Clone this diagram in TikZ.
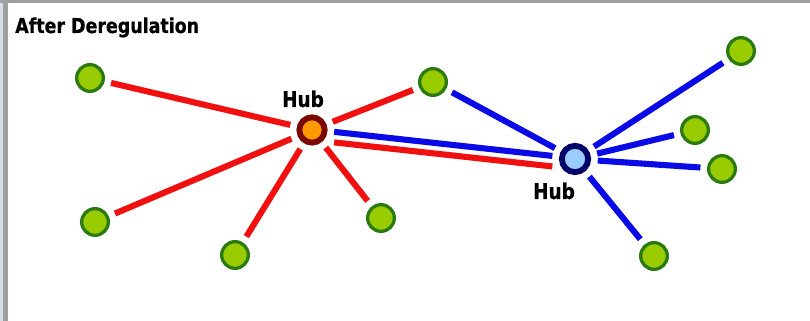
\documentclass[tikz,border=0pt]{standalone}
\usepackage{fontspec}
\newfontfamily\lblfont[FakeStretch=0.85,FakeBold=0.6]{DejaVu Sans}
\definecolor{leaf}{HTML}{99CC00}
\definecolor{leafdk}{HTML}{2A7A10}
\definecolor{hubor}{HTML}{FF9900}
\definecolor{hubred}{HTML}{7A0A00}
\definecolor{hubblfill}{HTML}{99CCFF}
\definecolor{hubbl}{HTML}{000066}
\definecolor{edred}{HTML}{F01010}
\definecolor{edblue}{HTML}{0A0AE6}
\definecolor{framegray}{HTML}{A0A0A0}
\definecolor{framelight}{HTML}{D8DEE8}
\tikzset{
  leafnode/.style={circle,fill=leaf,draw=leafdk,line width=2.8pt,minimum size=0.8cm,inner sep=0pt},
  hubA/.style={circle,fill=hubor,draw=hubred,line width=5pt,minimum size=0.76cm,inner sep=0pt},
  hubB/.style={circle,fill=hubblfill,draw=hubbl,line width=5pt,minimum size=0.79cm,inner sep=0pt},
  redline/.style={draw=edred,line width=5.2pt,shorten <=0.2cm,shorten >=0.2cm},
  blueline/.style={draw=edblue,line width=5.2pt,shorten <=0.2cm,shorten >=0.2cm},
  hublabel/.style={font=\lblfont\bfseries\fontsize{18.5}{20}\selectfont,inner sep=0pt,anchor=base},
  titletext/.style={font=\lblfont\bfseries\fontsize{17.5}{20}\selectfont,inner sep=0pt,anchor=base west}
}
\begin{document}
\begin{tikzpicture}[x=0.03cm,y=-0.03cm]
\useasboundingbox (0,0) rectangle (810,321);
\fill[white] (0,0) rectangle (810,321);
\fill[framelight] (0,0) rectangle (3,321);
\fill[framegray] (3,0) rectangle (8,321);
\fill[framegray] (0,0) rectangle (810,3);
\node[titletext] (title) at (15,33) {After Deregulation};
% hubs
\node[hubA] (h1) at (312,130) {};
\node[hubB] (h2) at (575,159) {};
\node[hublabel] (l1) at (303,107) {Hub};
\node[hublabel] (l2) at (554,199) {Hub};
% leaves
\node[leafnode] (a) at (90,78) {};
\node[leafnode] (b) at (433,82) {};
\node[leafnode] (c) at (95,222) {};
\node[leafnode] (d) at (235,255) {};
\node[leafnode] (e) at (381,218) {};
\node[leafnode] (f) at (741,51) {};
\node[leafnode] (g) at (695,130) {};
\node[leafnode] (h) at (722,169) {};
\node[leafnode] (i) at (654,256) {};
% red edges
\draw[redline] (a) -- (h1);
\draw[redline] (b) -- (h1);
\draw[redline] (c) -- (h1);
\draw[redline] (d) -- (h1);
\draw[redline] (e) -- (h1);
% hub to hub
\draw[blueline,transform canvas={yshift=0.5pt}] (h1) -- (h2);
\draw[redline,transform canvas={yshift=-8.5pt}] (h1) -- (h2);
% blue edges
\draw[blueline] (b) -- (h2);
\draw[blueline] (f) -- (h2);
\draw[blueline] (g) -- (h2);
\draw[blueline] (h) -- (h2);
\draw[blueline] (i) -- (h2);
\end{tikzpicture}
\end{document}
